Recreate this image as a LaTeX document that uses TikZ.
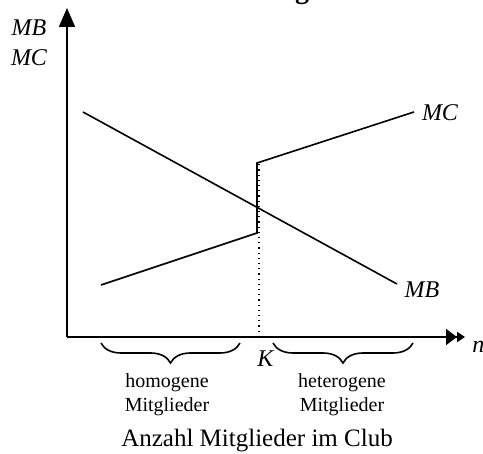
\documentclass[tikz,border=0pt]{standalone}
\usepackage{fontspec}
\setmainfont{Liberation Serif}
\usetikzlibrary{arrows.meta,decorations.pathreplacing}

\begin{document}
\begin{tikzpicture}[x=0.5pt,y=-0.5pt]
    \tikzstyle{every node}+=[inner sep=0pt]
    \tikzstyle{lbl}=[font=\fontsize{12}{14}\selectfont\itshape]
    \tikzstyle{txt}=[font=\fontsize{10}{12}\selectfont, align=center]
    \tikzstyle{axis}=[line width=0.9pt]
    \tikzstyle{curve}=[line width=0.8pt]
    \tikzstyle{brc}=[decorate, decoration={brace, mirror, amplitude=10pt}, line width=0.8pt]
    \useasboundingbox (0,0) rectangle (483,454);
    % title, cut off at the top
    \node [font=\fontsize{14}{16}\selectfont\bfseries, anchor=base] (title) at (302,-1) {g};
    % axes
    \coordinate (O) at (67,337);
    \coordinate (ytop) at (67,8);
    \coordinate (xend) at (465,337);
    \draw [axis, -{Triangle[length=9.5pt,width=8pt]}] (O) -- (ytop);
    \draw [axis, -{Triangle[length=5.5pt,width=8pt]Triangle[length=4pt,width=5pt]}] (O) -- (xend);
    \node [lbl] (mby) at (29,28) {MB};
    \node [lbl] (mcy) at (29,58) {MC};
    \node [lbl, anchor=base west] (n) at (472,353) {n};
    % MC curve with the jump at K
    \coordinate (mc0) at (101,285);
    \coordinate (mc1) at (257,233);
    \coordinate (mc2) at (257,163);
    \coordinate (mc3) at (414,112);
    \coordinate (K) at (257,337);
    \draw [dotted, line width=0.6pt] ([xshift=1]K) -- ([xshift=1]mc2);
    \draw [curve] (mc0) -- (mc1) -- (mc2) -- (mc3);
    \node [lbl] (mc) at (440,113) {MC};
    % MB curve
    \coordinate (mb0) at (83,112);
    \coordinate (mb1) at (397,284);
    \draw [curve] (mb0) -- (mb1);
    \node [lbl] (mb) at (422,290) {MB};
    \node [lbl, anchor=base west] (klbl) at (257,367) {K};
    % braces
    \coordinate (h0) at (101,343);
    \coordinate (h1) at (240,343);
    \coordinate (e0) at (273,343);
    \coordinate (e1) at (413,343);
    \draw [brc] (h0) -- (h1);
    \draw [brc] (e0) -- (e1);
    \node [txt] (hom) at (167,395) {homogene\\Mitglieder};
    \node [txt] (het) at (342,395) {heterogene\\Mitglieder};
    \node [font=\fontsize{12.5}{15}\selectfont] (caption) at (257,441) {Anzahl Mitglieder im Club};
\end{tikzpicture}
\end{document}
